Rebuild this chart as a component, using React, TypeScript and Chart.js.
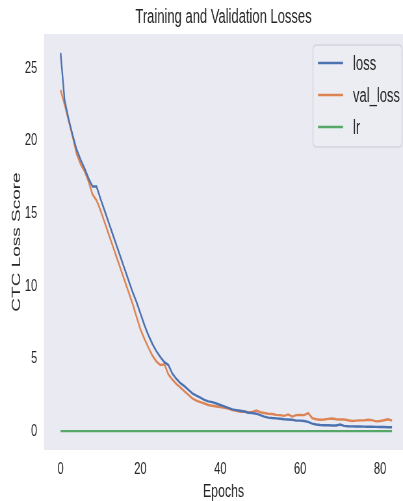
import React, { useEffect, useRef } from "react";
import { Chart, registerables } from "chart.js";

Chart.register(...registerables);

const EPOCHS = [
  0, 1, 2, 3, 4, 5, 6, 7, 8, 9, 10, 11, 12, 13, 14, 15, 16, 17, 18, 19,
  20, 21, 22, 23, 24, 25, 26, 27, 28, 29, 30, 31, 32, 33, 34, 35, 36, 37, 38, 39,
  40, 41, 42, 43, 44, 45, 46, 47, 48, 49, 50, 51, 52, 53, 54, 55, 56, 57, 58, 59,
  60, 61, 62, 63, 64, 65, 66, 67, 68, 69, 70, 71, 72, 73, 74, 75, 76, 77, 78, 79,
  80, 81, 82, 83,
];

const LOSS = [
  26.05, 22.8, 21.5, 20.4, 19.4, 18.7, 18.1, 17.4, 16.85, 16.85,
  16.0, 15.2, 14.4, 13.6, 12.8, 12.0, 11.2, 10.4, 9.6, 8.9,
  8.1, 7.3, 6.6, 6.0, 5.5, 5.1, 4.75, 4.55, 3.95, 3.6,
  3.3, 3.1, 2.85, 2.6, 2.45, 2.3, 2.15, 2.05, 2.0, 1.9,
  1.8, 1.7, 1.6, 1.5, 1.45, 1.4, 1.35, 1.27, 1.25, 1.2,
  1.1, 1.0, 0.93, 0.9, 0.88, 0.85, 0.82, 0.8, 0.78, 0.72,
  0.72, 0.7, 0.64, 0.52, 0.46, 0.42, 0.4, 0.4, 0.39, 0.39,
  0.45, 0.36, 0.34, 0.33, 0.32, 0.32, 0.31, 0.3, 0.3, 0.29,
  0.28, 0.28, 0.27, 0.27,
];

const VAL_LOSS = [
  23.5, 22.5, 21.4, 20.3, 19.1, 18.4, 17.9, 17.2, 16.3, 15.9,
  15.2, 14.4, 13.6, 12.8, 12.0, 11.2, 10.4, 9.6, 8.8, 7.9,
  7.0, 6.35, 5.75, 5.2, 4.8, 4.55, 4.6, 3.9, 3.55, 3.25,
  3.0, 2.75, 2.5, 2.25, 2.1, 2.0, 1.9, 1.8, 1.75, 1.7,
  1.65, 1.6, 1.55, 1.45, 1.4, 1.33, 1.35, 1.3, 1.32, 1.42,
  1.3, 1.25, 1.2, 1.18, 1.12, 1.1, 1.05, 1.15, 1.0, 1.1,
  1.12, 1.1, 1.24, 0.9, 0.82, 0.78, 0.8, 0.84, 0.87, 0.82,
  0.8, 0.8, 0.75, 0.7, 0.72, 0.74, 0.74, 0.78, 0.76, 0.67,
  0.7, 0.75, 0.82, 0.72,
];

const LR = [
  0.001, 0.001, 0.001, 0.001, 0.001, 0.001, 0.001, 0.001, 0.001, 0.001,
  0.001, 0.001, 0.001, 0.001, 0.001, 0.001, 0.001, 0.001, 0.001, 0.001,
  0.001, 0.001, 0.001, 0.001, 0.001, 0.001, 0.001, 0.001, 0.001, 0.001,
  0.001, 0.001, 0.001, 0.001, 0.001, 0.001, 0.001, 0.001, 0.001, 0.001,
  0.001, 0.001, 0.001, 0.001, 0.001, 0.001, 0.001, 0.001, 0.001, 0.001,
  0.001, 0.001, 0.001, 0.001, 0.001, 0.001, 0.001, 0.001, 0.001, 0.001,
  0.001, 0.001, 0.001, 0.001, 0.001, 0.001, 0.001, 0.001, 0.001, 0.001,
  0.001, 0.001, 0.001, 0.001, 0.001, 0.001, 0.001, 0.001, 0.001, 0.001,
  0.001, 0.001, 0.001, 0.001,
];

const X_TICKS = [0, 20, 40, 60, 80];
const Y_TICKS = [0, 5, 10, 15, 20, 25];

const SERIES_LABELS = ["loss", "val_loss", "lr"];
const SERIES_COLORS = ["#4C72B0", "#DD8452", "#55A868"];

const TITLE = "Training and Validation Losses";
const X_TITLE = "Epochs";
const Y_TITLE = "CTC Loss Score";

const SX = 0.65;
const CW = Math.round(403 / SX);
const CH = 501;
const FONT = "'Liberation Sans', Arial, Helvetica, sans-serif";
const TEXT = "#262626";

const bgPlugin = {
  id: "plotBg",
  beforeDraw(chart: any) {
    const { ctx, chartArea } = chart;
    ctx.save();
    ctx.fillStyle = "#EAEAF2";
    ctx.fillRect(chartArea.left, chartArea.top, chartArea.right - chartArea.left, chartArea.bottom - chartArea.top);
    ctx.restore();
  },
};

const legendPlugin = {
  id: "innerLegend",
  afterDraw(chart: any) {
    const { ctx } = chart;
    const x0 = 313 / SX;
    const x1 = 402 / SX;
    const y0 = 45;
    const y1 = 147;
    const r = 5;
    ctx.save();
    ctx.beginPath();
    ctx.moveTo(x0 + r, y0);
    ctx.lineTo(x1 - r, y0);
    ctx.quadraticCurveTo(x1, y0, x1, y0 + r);
    ctx.lineTo(x1, y1 - r);
    ctx.quadraticCurveTo(x1, y1, x1 - r, y1);
    ctx.lineTo(x0 + r, y1);
    ctx.quadraticCurveTo(x0, y1, x0, y1 - r);
    ctx.lineTo(x0, y0 + r);
    ctx.quadraticCurveTo(x0, y0, x0 + r, y0);
    ctx.closePath();
    ctx.fillStyle = "rgba(236,236,243,0.9)";
    ctx.fill();
    ctx.strokeStyle = "#D4D4DC";
    ctx.lineWidth = 1.3;
    ctx.stroke();
    const rows = [63, 95, 127];
    chart.data.datasets.forEach((ds: any, i: number) => {
      const y = rows[i];
      ctx.beginPath();
      ctx.moveTo(318 / SX, y);
      ctx.lineTo(343 / SX, y);
      ctx.strokeStyle = ds.borderColor;
      ctx.lineWidth = 2.4;
      ctx.stroke();
      ctx.fillStyle = TEXT;
      ctx.font = `20px ${FONT}`;
      ctx.textAlign = "left";
      ctx.textBaseline = "middle";
      ctx.fillText(ds.label, 353 / SX, y + 1);
    });
    ctx.restore();
  },
};

export default function App() {
  const ref = useRef<HTMLCanvasElement | null>(null);

  useEffect(() => {
    if (!ref.current) return;
    const seriesValues = [LOSS, VAL_LOSS, LR];
    const chart = new Chart(ref.current, {
      type: "line",
      data: {
        datasets: seriesValues.map((vals, i) => ({
          label: SERIES_LABELS[i],
          data: EPOCHS.map((e, j) => ({ x: e, y: vals[j] })),
          borderColor: SERIES_COLORS[i],
          backgroundColor: SERIES_COLORS[i],
          borderWidth: 2.4,
          pointRadius: 0,
          tension: 0,
          fill: false,
        })),
      },
      options: {
        responsive: false,
        animation: false,
        layout: { padding: { left: 0, right: 0, top: 0, bottom: 0 } },
        plugins: {
          legend: { display: false },
          tooltip: { enabled: false },
          title: {
            display: true,
            text: TITLE,
            fullSize: false,
            color: TEXT,
            font: { family: FONT, size: 20, weight: "normal" },
            padding: { top: 5, bottom: 5 },
          },
        },
        scales: {
          x: {
            type: "linear",
            min: -4.15,
            max: 85.75,
            grid: { display: false, drawTicks: false },
            border: { display: false },
            afterBuildTicks: (s: any) => {
              s.ticks = X_TICKS.map((v) => ({ value: v }));
            },
            afterFit: (s: any) => {
              s.height = 51;
            },
            ticks: {
              color: TEXT,
              font: { family: FONT, size: 17 },
              padding: 9.5,
              maxRotation: 0,
              callback: (v: any) => String(v),
            },
            title: {
              display: true,
              text: X_TITLE,
              color: TEXT,
              font: { family: FONT, size: 19, lineHeight: 1 },
              padding: { top: 0, bottom: 0 },
            },
          },
          y: {
            type: "linear",
            min: -1.3,
            max: 27.35,
            grid: { display: false, drawTicks: false },
            border: { display: false },
            afterBuildTicks: (s: any) => {
              s.ticks = Y_TICKS.map((v) => ({ value: v }));
            },
            afterFit: (s: any) => {
              s.width = 44 / SX;
            },
            ticks: {
              color: TEXT,
              font: { family: FONT, size: 17 },
              padding: 10.5,
              callback: (v: any) => String(v),
            },
            title: {
              display: true,
              text: Y_TITLE,
              color: TEXT,
              font: { family: FONT, size: 19, lineHeight: 1.2 },
              padding: { top: 14.5, bottom: 0 },
            },
          },
        },
      },
      plugins: [bgPlugin, legendPlugin],
    } as any);
    return () => chart.destroy();
  }, []);

  return (
    <div style={{ position: "fixed", left: 0, top: 0, width: 403, height: 501, overflow: "hidden", background: "#fff" }}>
      <canvas
        ref={ref}
        width={CW}
        height={CH}
        style={{ width: CW + "px", height: CH + "px", transform: `scaleX(${SX})`, transformOrigin: "0 0", display: "block" }}
      />
    </div>
  );
}
